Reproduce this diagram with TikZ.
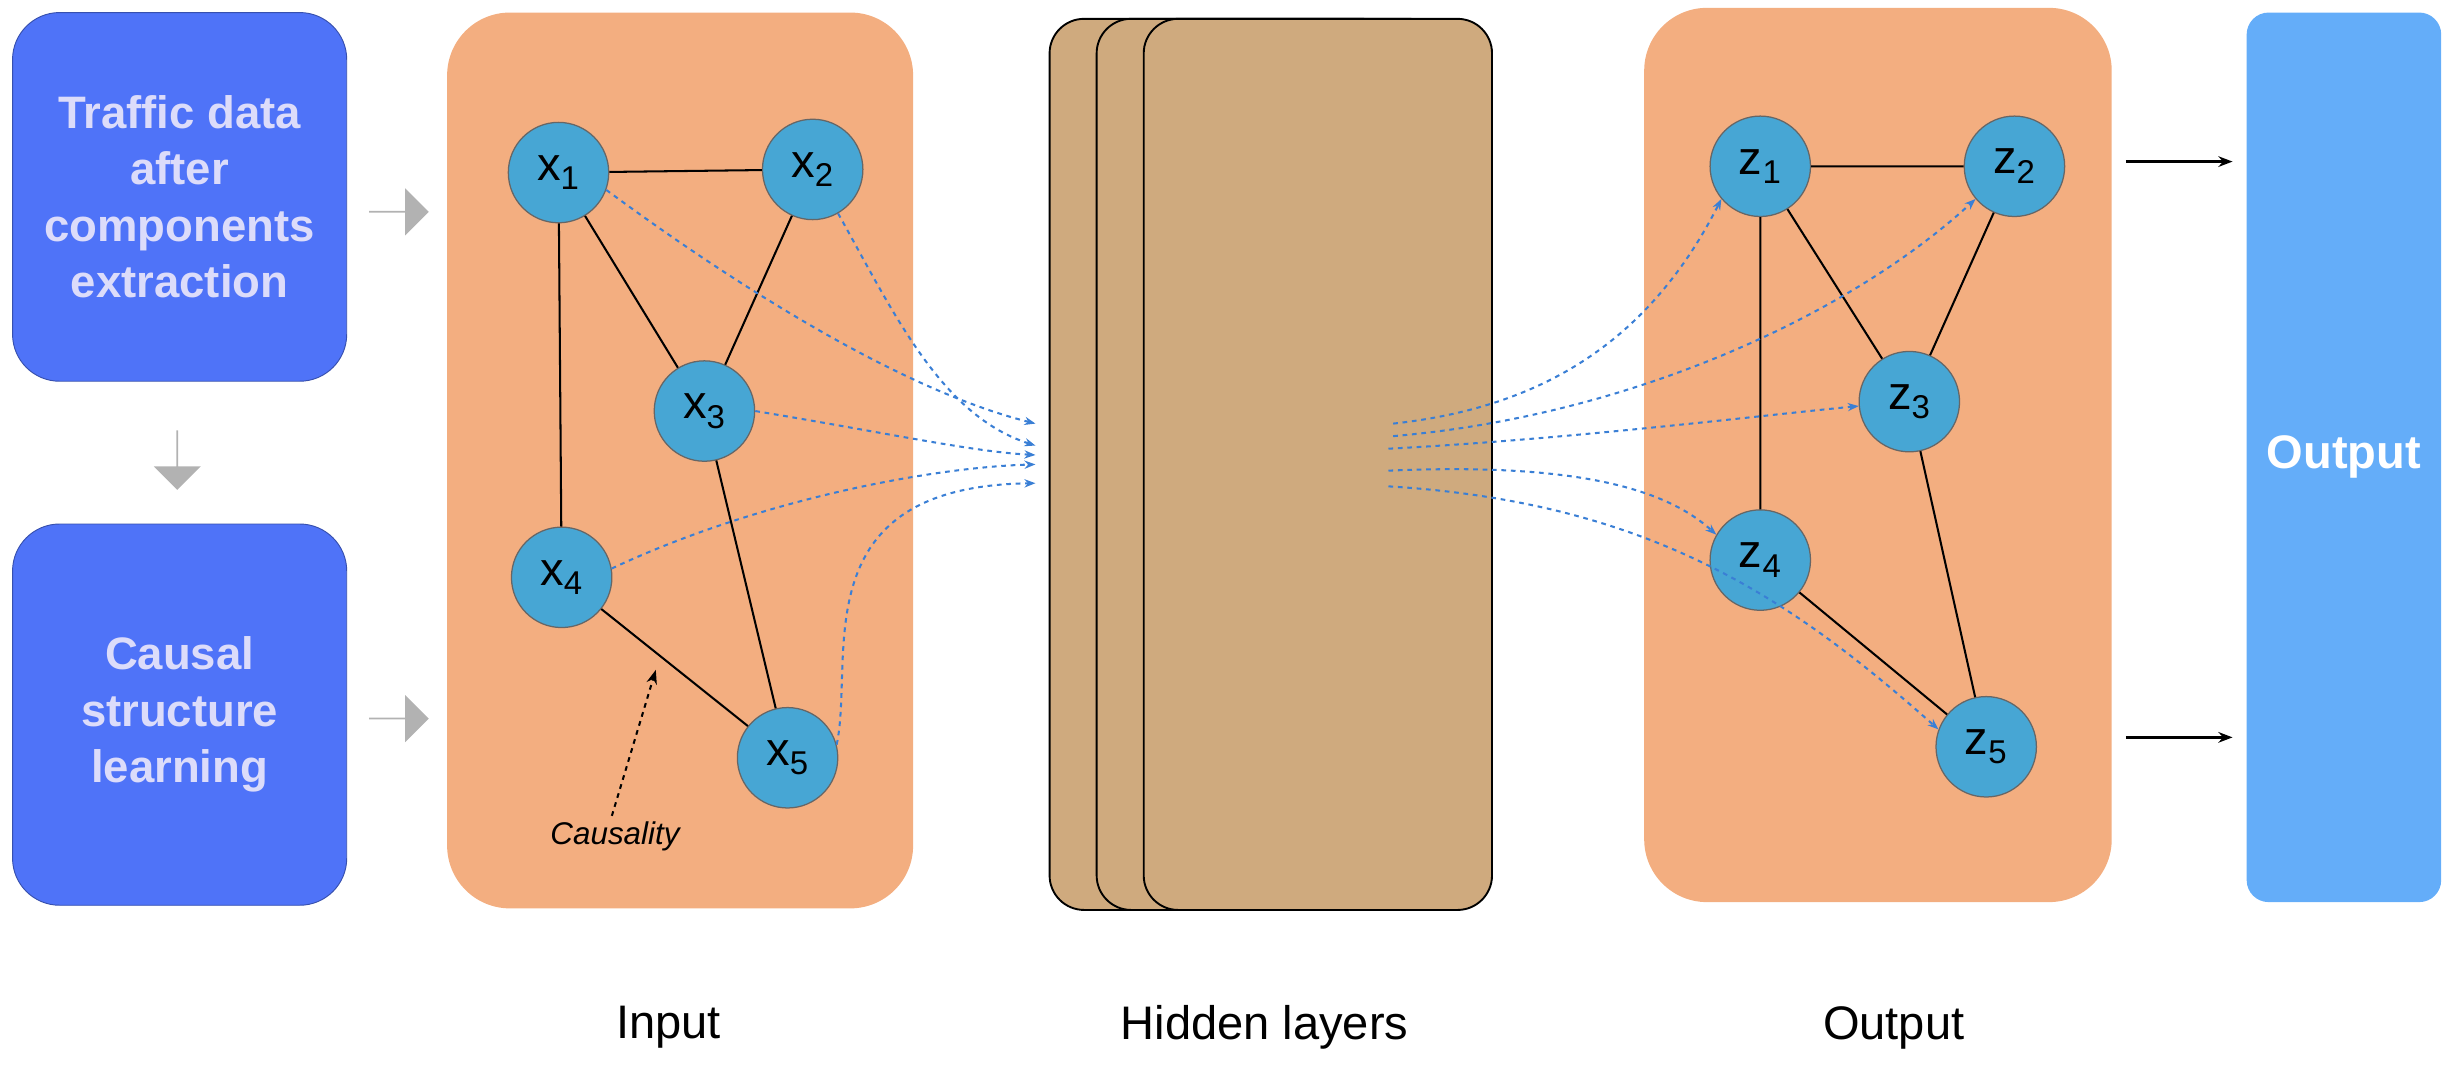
\documentclass[tikz,border=0pt]{standalone}
\usepackage{fontspec}
\setmainfont{Liberation Sans}
\usetikzlibrary{arrows.meta,shapes.arrows}
\definecolor{bbox}{HTML}{4F73F8}
\definecolor{panel}{HTML}{F3AE80}
\definecolor{nodec}{HTML}{47A6D4}
\definecolor{hid}{HTML}{CFAA7E}
\definecolor{outc}{HTML}{64ADF9}
\definecolor{dashblue}{HTML}{3A7FD5}
\definecolor{lav}{HTML}{DCDCFA}
\begin{document}
\begin{tikzpicture}[x=1pt,y=-1pt,
 bluebox/.style={fill=bbox,rounded corners=30pt,draw=bbox!70!black,line width=0.6pt},
 pan/.style={fill=panel,rounded corners=40pt},
 hl/.style={fill=hid,draw=black,line width=1.2pt,rounded corners=22pt},
 gn/.style={circle,fill=nodec,draw=black!60,line width=0.8pt,minimum size=64pt,inner sep=0pt,font=\fontsize{30}{30}\selectfont},
 ed/.style={line width=1.3pt},
 dl/.style={draw=dashblue,dashed,line width=1.3pt,-{Stealth[length=7pt]}},
 garr/.style={fill=black!30,draw=none,single arrow,single arrow head extend=5pt,minimum height=38pt,minimum width=30pt,inner sep=0pt},
 lab/.style={font=\fontsize{30}{30}\selectfont},
 btxt/.style={text=lav,font=\bfseries\fontsize{29}{36}\selectfont,align=center}]
\useasboundingbox (0,0) rectangle (1568,679);
% left boxes
\node[bluebox,minimum width=213pt,minimum height=235pt,btxt] (b1) at (114.5,125.5) {Traffic data\\after\\components\\extraction};
\node[bluebox,minimum width=213pt,minimum height=243pt,btxt] (b2) at (114.5,455.5) {Causal\\structure\\learning};
\node[garr] (g1) at (254,135) {};
\node[garr] (g2) at (254,458) {};
\node[garr,shape border rotate=270] (g3) at (113,293) {};
% input panel
\node[pan,minimum width=297pt,minimum height=571pt] (pin) at (433.5,293.5) {};
\node[gn] (x1) at (356,110) {x\textsubscript{1}};
\node[gn] (x2) at (518,108) {x\textsubscript{2}};
\node[gn] (x3) at (449,262) {x\textsubscript{3}};
\node[gn] (x4) at (358,368) {x\textsubscript{4}};
\node[gn] (x5) at (502,483) {x\textsubscript{5}};
\draw[ed] (x1)--(x2) (x1)--(x3) (x1)--(x4) (x2)--(x3) (x3)--(x5) (x4)--(x5);
\coordinate (cs) at (390,520);
\coordinate (ce) at (418,427);
\draw[dashed,line width=1.3pt,-{Stealth[length=9pt]}] (cs)--(ce);
\node[font=\itshape\fontsize{20}{20}\selectfont] (cl) at (392,533) {Causality};
% hidden layers
\node[hl,minimum width=221pt,minimum height=568pt] (h1) at (779.5,296) {};
\node[hl,minimum width=221pt,minimum height=568pt] (h2) at (809.5,296) {};
\node[hl,minimum width=222pt,minimum height=568pt] (h3) at (840,296) {};
% output panel
\node[pan,minimum width=298pt,minimum height=570pt] (pout) at (1197,290) {};
\node[gn] (z1) at (1122,106) {z\textsubscript{1}};
\node[gn] (z2) at (1284,106) {z\textsubscript{2}};
\node[gn] (z3) at (1217,256) {z\textsubscript{3}};
\node[gn] (z4) at (1122,357) {z\textsubscript{4}};
\node[gn] (z5) at (1266,476) {z\textsubscript{5}};
\draw[ed] (z1)--(z2) (z1)--(z3) (z1)--(z4) (z2)--(z3) (z3)--(z5) (z4)--(z5);
% dashed connectors in
\coordinate (i1) at (660,270); \coordinate (i2) at (660,284);
\coordinate (i3) at (660,290); \coordinate (i4) at (660,296);
\coordinate (i5) at (660,308);
\draw[dl] (x1.-20) .. controls (480,190) and (580,250) .. (i1);
\draw[dl] (x2.-60) .. controls (570,200) and (600,265) .. (i2);
\draw[dl] (x3.0) .. controls (560,275) and (620,288) .. (i3);
\draw[dl] (x4.10) .. controls (480,320) and (590,298) .. (i4);
\draw[dl] (x5.15) .. controls (545,420) and (510,310) .. (i5);
% dashed connectors out
\coordinate (o1) at (888,270); \coordinate (o2) at (888,278);
\coordinate (o3) at (885,286); \coordinate (o4) at (885,300);
\coordinate (o5) at (885,310);
\draw[dl] (o1) .. controls (980,260) and (1050,220) .. (z1.-140);
\draw[dl] (o2) .. controls (1040,265) and (1180,200) .. (z2.-140);
\draw[dl] (o3) .. controls (1000,280) and (1120,265) .. (z3.-175);
\draw[dl] (o4) .. controls (1000,295) and (1060,310) .. (z4.150);
\draw[dl] (o5) .. controls (1050,320) and (1140,380) .. (z5.160);
% output bar
\node[fill=outc,rounded corners=14pt,minimum width=124pt,minimum height=567pt,text=white,font=\bfseries\fontsize{30}{30}\selectfont] (ob) at (1494,291.5) {Output};
\coordinate (a1) at (1355,103); \coordinate (a2) at (1355,470);
\coordinate (a1e) at (1423,103); \coordinate (a2e) at (1423,470);
\draw[line width=1.5pt,-{Stealth[length=9pt]}] (a1)--(a1e);
\draw[line width=1.5pt,-{Stealth[length=9pt]}] (a2)--(a2e);
% labels
\node[lab] (l1) at (426,655) {Input};
\node[lab] (l2) at (806,655) {Hidden layers};
\node[lab] (l3) at (1207,655) {Output};
\end{tikzpicture}
\end{document}
